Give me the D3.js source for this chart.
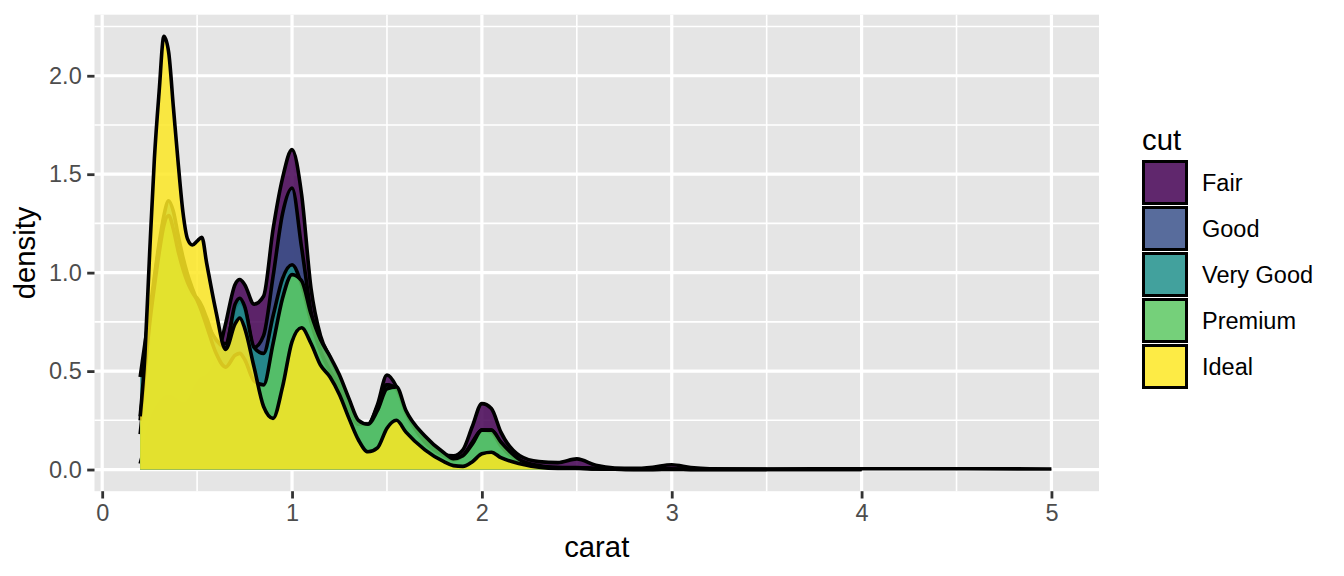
<!DOCTYPE html>
<html>
<head>
<meta charset="utf-8">
<script src="https://cdn.jsdelivr.net/npm/d3@7"></script>
<style>
  body { margin: 0; background: #fff; }
  svg { font-family: "Liberation Sans", Arial, sans-serif; }
</style>
</head>
<body>
<div class="canvas"></div>
<script>
// data
const cuts = ['Fair', 'Good', 'Very Good', 'Premium', 'Ideal'];
const colours = ['#440154', '#3B528B', '#21908C', '#5DC863', '#FDE725'];

const carat = [0.2, 0.225, 0.25, 0.275, 0.3, 0.325, 0.35, 0.375, 0.4, 0.425,
  0.45, 0.475, 0.5, 0.525, 0.55, 0.6, 0.65, 0.7, 0.725, 0.75,
  0.8, 0.85, 0.9, 0.95, 1.0, 1.05, 1.1, 1.15, 1.2, 1.25,
  1.3, 1.35, 1.4, 1.45, 1.5, 1.55, 1.6, 1.7, 1.8, 1.85,
  1.9, 1.95, 2.0, 2.05, 2.1, 2.2, 2.3, 2.4, 2.5, 2.6,
  2.7, 2.8, 2.9, 3.0, 3.1, 3.2, 3.5, 4.0, 4.5, 5.0];

const fair = [0.03, 0.12, 0.22, 0.29, 0.33, 0.36, 0.37, 0.36, 0.34, 0.33,
  0.34, 0.38, 0.43, 0.46, 0.47, 0.55, 0.74, 0.94, 0.965, 0.94,
  0.84, 0.88, 1.22, 1.48, 1.625, 1.40, 0.92, 0.68, 0.57, 0.46,
  0.33, 0.23, 0.23, 0.33, 0.48, 0.42, 0.28, 0.15, 0.075, 0.07,
  0.10, 0.22, 0.335, 0.31, 0.19, 0.07, 0.04, 0.035, 0.054, 0.022,
  0.008, 0.006, 0.012, 0.024, 0.01, 0.004, 0.003, 0.004, 0.004, 0.003];

const good = [0.18, 0.42, 0.72, 0.96, 1.13, 1.24, 1.25, 1.18, 1.07, 0.98,
  0.92, 0.89, 0.87, 0.83, 0.77, 0.65, 0.64, 0.82, 0.85, 0.82,
  0.62, 0.68, 0.98, 1.30, 1.43, 1.13, 0.80, 0.60, 0.50, 0.42,
  0.31, 0.22, 0.22, 0.31, 0.43, 0.40, 0.27, 0.14, 0.07, 0.05,
  0.07, 0.14, 0.20, 0.20, 0.13, 0.045, 0.016, 0.01, 0.01, 0.005,
  0.003, 0.002, 0.003, 0.004, null, null, null, null, null, null];

const veryGood = [0.47, 0.64, 0.80, 0.98, 1.15, 1.29, 1.365, 1.31, 1.19, 1.08,
  0.99, 0.92, 0.86, 0.81, 0.75, 0.66, 0.62, 0.84, 0.87, 0.83,
  0.62, 0.59, 0.78, 0.97, 1.04, 0.94, 0.75, 0.60, 0.50, 0.42,
  0.31, 0.23, 0.23, 0.32, 0.43, 0.41, 0.29, 0.14, 0.07, 0.05,
  0.07, 0.13, 0.20, 0.19, 0.12, 0.04, 0.015, 0.008, 0.008, 0.004,
  0.002, 0.001, 0.001, 0.002, 0.001, 0.0005, 0.0003, 0.0002, null, null];

const premium = [0.25, 0.50, 0.74, 0.93, 1.10, 1.24, 1.29, 1.22, 1.11, 1.02,
  0.95, 0.90, 0.86, 0.80, 0.73, 0.59, 0.52, 0.58, 0.59, 0.56,
  0.45, 0.43, 0.64, 0.87, 0.99, 0.96, 0.79, 0.66, 0.575, 0.48,
  0.36, 0.25, 0.23, 0.30, 0.41, 0.42, 0.30, 0.17, 0.085, 0.055,
  0.07, 0.13, 0.20, 0.20, 0.14, 0.05, 0.02, 0.01, 0.008, 0.004,
  0.002, 0.001, 0.001, 0.002, 0.001, 0.0005, 0.0003, 0.0002, null, null];

const ideal = [0.27, 0.58, 1.10, 1.58, 1.92, 2.2, 2.12, 1.84, 1.56, 1.31,
  1.17, 1.14, 1.16, 1.18, 1.05, 0.80, 0.61, 0.74, 0.77, 0.72,
  0.52, 0.32, 0.26, 0.42, 0.65, 0.72, 0.64, 0.53, 0.47, 0.38,
  0.26, 0.15, 0.09, 0.11, 0.21, 0.25, 0.19, 0.10, 0.04, 0.02,
  0.016, 0.04, 0.08, 0.088, 0.06, 0.03, 0.012, 0.006, 0.006, 0.003,
  0.002, 0.001, 0.001, 0.001, 0.0005, 0.0002, 0.0001, null, null, null];

const xTicks = [0, 1, 2, 3, 4, 5];
const yTicks = [0, 0.5, 1, 1.5, 2];

const series = [fair, good, veryGood, premium, ideal];

const width = 1344;
const height = 576;

const svg = d3.select('.canvas')
  .append('svg')
    .attr('width', width)
    .attr('height', height);

// panel box
const panel = { left: 94.5, right: 1099, top: 14.7, bottom: 491.2 };

// scales with ggplot-style 5% expansion
const xMin = 0.2, xMax = 5.01;
const xPad = (xMax - xMin) * 0.05;
const x = d3.scaleLinear()
  .domain([xMin - xPad, xMax + xPad])
  .range([panel.left, panel.right]);

const yMax = d3.max(series, s => d3.max(s));
const y = d3.scaleLinear()
  .domain([-yMax * 0.05, yMax * 1.05])
  .range([panel.bottom, panel.top]);

// background + grid
svg.append('rect')
  .attr('x', panel.left)
  .attr('y', panel.top)
  .attr('width', panel.right - panel.left)
  .attr('height', panel.bottom - panel.top)
  .attr('fill', '#E5E5E5');

const xMinor = [0.5, 1.5, 2.5, 3.5, 4.5];
const yMinor = [0.25, 0.75, 1.25, 1.75, 2.25];

const grid = svg.append('g').attr('stroke', '#fff');
grid.selectAll('.xminor').data(xMinor).enter().append('line')
  .attr('x1', d => x(d)).attr('x2', d => x(d))
  .attr('y1', panel.top).attr('y2', panel.bottom)
  .attr('stroke-width', 1.6);
grid.selectAll('.yminor').data(yMinor).enter().append('line')
  .attr('x1', panel.left).attr('x2', panel.right)
  .attr('y1', d => y(d)).attr('y2', d => y(d))
  .attr('stroke-width', 1.6);
grid.selectAll('.xmajor').data(xTicks).enter().append('line')
  .attr('x1', d => x(d)).attr('x2', d => x(d))
  .attr('y1', panel.top).attr('y2', panel.bottom)
  .attr('stroke-width', 3.2);
grid.selectAll('.ymajor').data(yTicks).enter().append('line')
  .attr('x1', panel.left).attr('x2', panel.right)
  .attr('y1', d => y(d)).attr('y2', d => y(d))
  .attr('stroke-width', 3.2);

// density layers, each drawn as fill then upper outline
const area = d3.area()
  .x(d => x(d[0]))
  .y0(y(0))
  .y1(d => y(d[1]))
  .curve(d3.curveMonotoneX);

const line = d3.line()
  .x(d => x(d[0]))
  .y(d => y(d[1]))
  .curve(d3.curveMonotoneX);

const fillOpacity = 0.85;

const layers = svg.append('g');
series.forEach((s, i) => {
  const pts = carat.map((c, j) => [c, s[j]]).filter(p => p[1] != null);
  layers.append('path')
    .attr('d', area(pts))
    .attr('fill', colours[i])
    .attr('fill-opacity', fillOpacity);
  layers.append('path')
    .attr('d', line(pts))
    .attr('fill', 'none')
    .attr('stroke', '#000')
    .attr('stroke-width', 3.6)
    .attr('stroke-linejoin', 'round');
});

// axes
const xAxis = d3.axisBottom(x)
  .tickValues(xTicks)
  .tickFormat(d3.format('d'))
  .tickSize(7.3)
  .tickPadding(6);
const yAxis = d3.axisLeft(y)
  .tickValues(yTicks)
  .tickFormat(d3.format('.1f'))
  .tickSize(7.3)
  .tickPadding(5.5);

const xAxisGroup = svg.append('g')
  .attr('transform', `translate(0, ${panel.bottom})`)
  .call(xAxis);
const yAxisGroup = svg.append('g')
  .attr('transform', `translate(${panel.left}, 0)`)
  .call(yAxis);

[xAxisGroup, yAxisGroup].forEach(g => {
  g.select('.domain').remove();
  g.selectAll('line').attr('stroke', '#333333').attr('stroke-width', 2.8);
  g.selectAll('text')
    .attr('fill', '#4D4D4D')
    .style('font-size', '23.5px')
    .style('font-family', '"Liberation Sans", Arial, sans-serif');
});

// axis titles
svg.append('text')
  .attr('x', (panel.left + panel.right) / 2)
  .attr('y', 557)
  .attr('text-anchor', 'middle')
  .style('font-size', '29.3px')
  .text('carat');

svg.append('text')
  .attr('transform', `translate(35, ${(panel.top + panel.bottom) / 2}) rotate(-90)`)
  .attr('text-anchor', 'middle')
  .style('font-size', '29.3px')
  .text('density');

// legend
const legend = svg.append('g').attr('transform', 'translate(1142, 160)');
legend.append('text')
  .attr('x', 0)
  .attr('y', -10)
  .style('font-size', '29.3px')
  .text('cut');

const keys = legend.selectAll('.key')
  .data(cuts)
  .enter()
  .append('g')
    .attr('transform', (d, i) => `translate(0, ${i * 46})`);

keys.append('rect')
  .attr('x', 1.5)
  .attr('y', 1.5)
  .attr('width', 43)
  .attr('height', 42)
  .attr('fill', (d, i) => colours[i])
  .attr('fill-opacity', fillOpacity)
  .attr('stroke', '#000')
  .attr('stroke-width', 3);

keys.append('text')
  .attr('x', 60)
  .attr('y', 31)
  .style('font-size', '23.5px')
  .text(d => d);
</script>
</body>
</html>
